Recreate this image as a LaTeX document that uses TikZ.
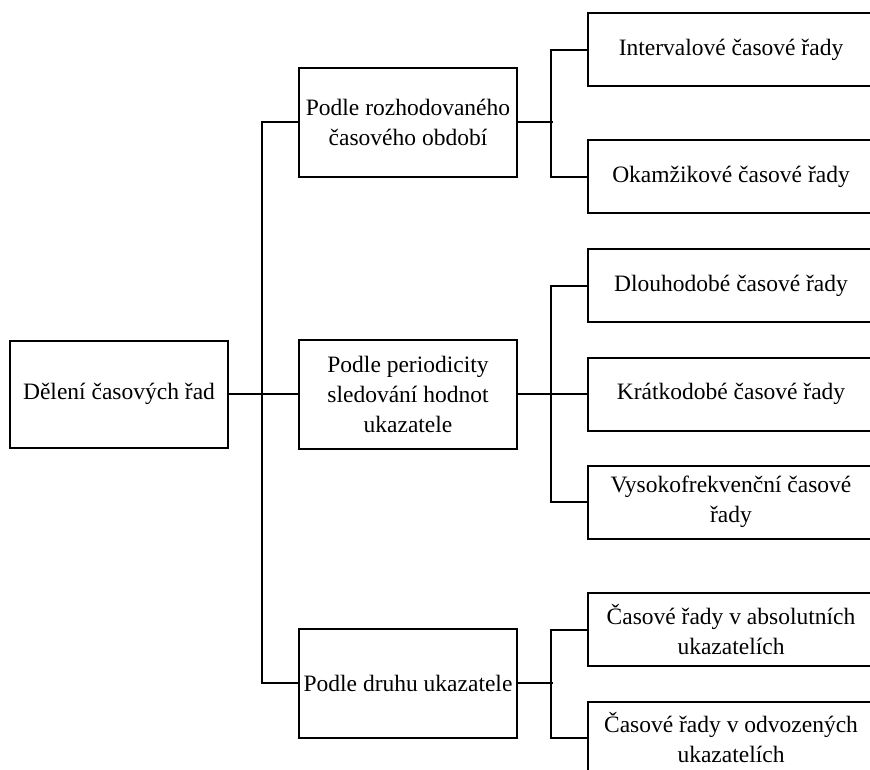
\documentclass[tikz,border=0pt]{standalone}
\usepackage{fontspec}
\setmainfont{Liberation Serif}
\begin{document}
\begin{tikzpicture}[x=1pt,y=-1pt,
  box/.style={draw,line width=2pt,rectangle,inner sep=0pt,align=center,
    font=\fontsize{23.5}{30}\selectfont},
  midbox/.style={box,minimum width=218pt,minimum height=109pt},
  leafbox/.style={box,minimum width=286pt,minimum height=73pt},
  conn/.style={line width=2pt}]
\useasboundingbox (0,0) rectangle (870,770);
\node[box,minimum width=218pt,minimum height=107pt] (root) at (119,394) {Dělení časových řad};
\node[midbox] (m1) at (408,122.5) {Podle rozhodovaného\\časového období};
\node[midbox] (m2) at (408,394) {Podle periodicity\\sledování hodnot\\ukazatele};
\node[midbox] (m3) at (408,683) {Podle druhu ukazatele};
\node[leafbox] (c1) at (731,50) {Intervalové časové řady};
\node[leafbox] (c2) at (731,177) {Okamžikové časové řady};
\node[leafbox] (c3) at (731,285.5) {Dlouhodobé časové řady};
\node[leafbox] (c4) at (731,394) {Krátkodobé časové řady};
\node[leafbox] (c5) at (731,502) {Vysokofrekvenční časové\\řady};
\node[leafbox] (c6) at (731,629.5) {Časové řady v absolutních\\ukazatelích};
\node[leafbox] (c7) at (731,738) {Časové řady v odvozených\\ukazatelích};
% level 1
\draw[conn] (m1.west) -- ++(-36,0) |- (m3.west);
\draw[conn] (root.east) -- (m2.west);
% group 1
\draw[conn] (c1.west) -- ++(-36,0) |- (c2.west);
\draw[conn] (m1.east) -- ++(35,0);
% group 2
\draw[conn] (c3.west) -- ++(-36,0) |- (c5.west);
\draw[conn] (m2.east) -- (c4.west);
% group 3
\draw[conn] (c6.west) -- ++(-36,0) |- (c7.west);
\draw[conn] (m3.east) -- ++(35,0);
\end{tikzpicture}
\end{document}
